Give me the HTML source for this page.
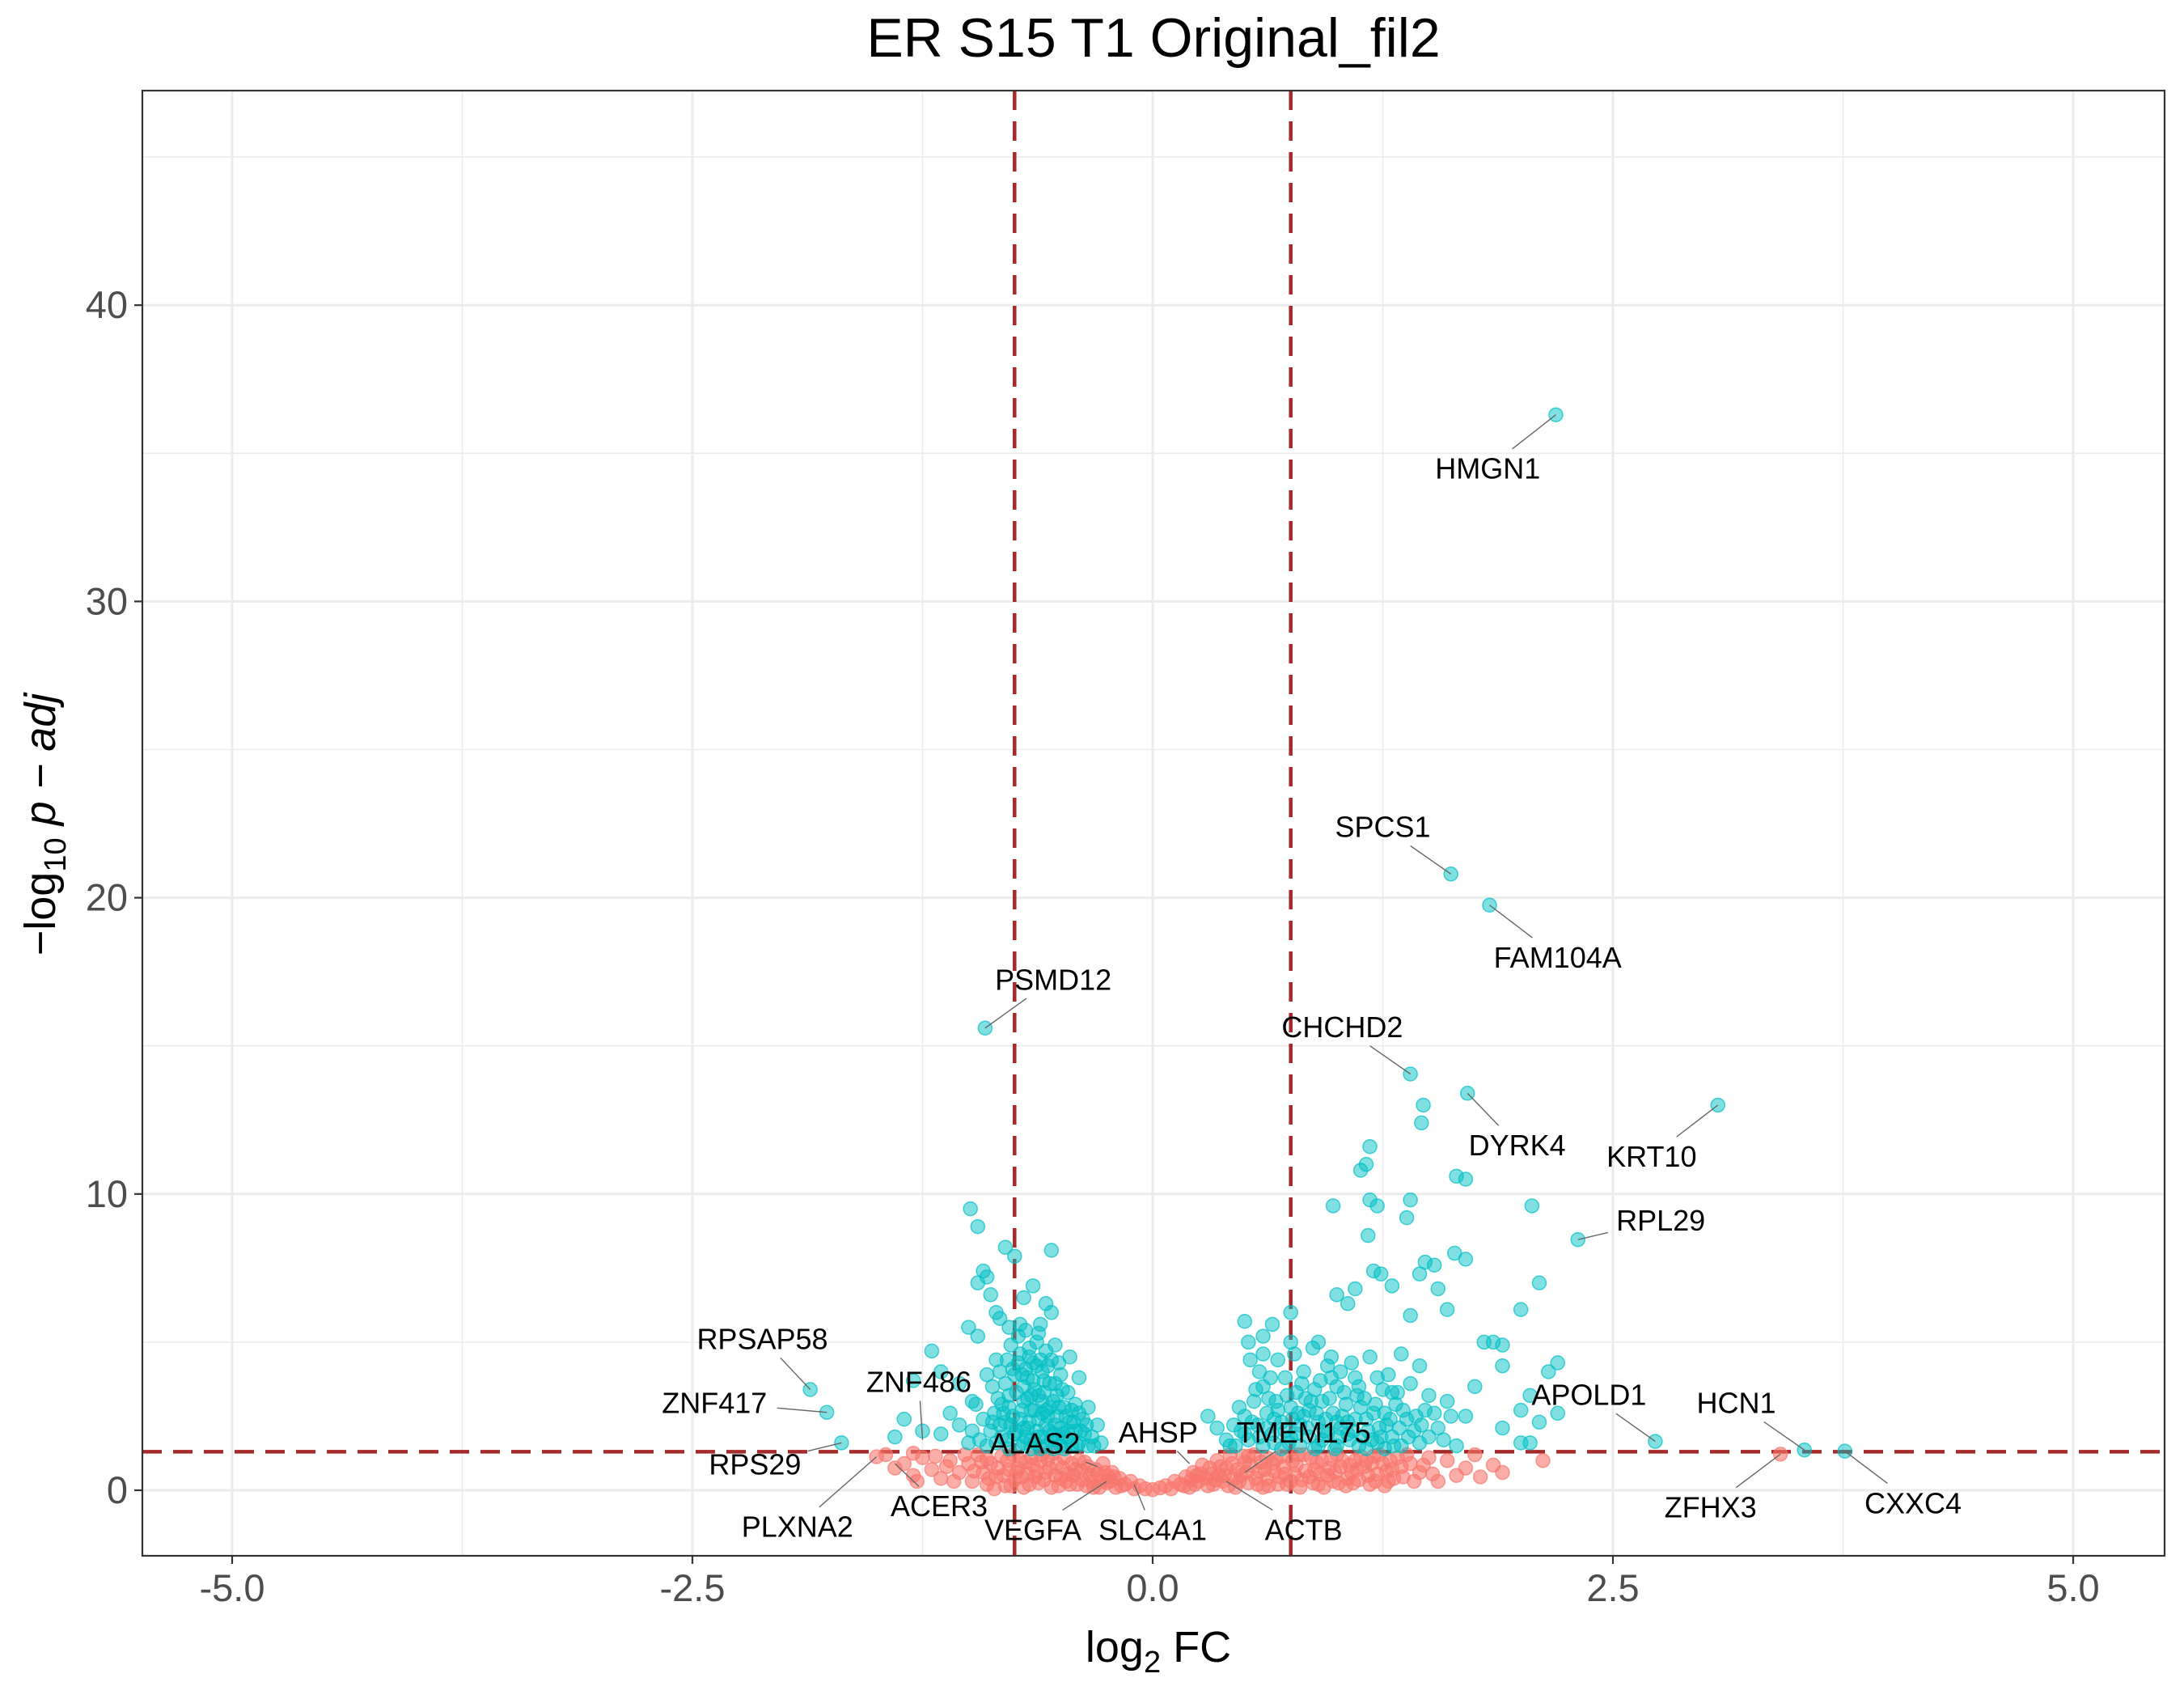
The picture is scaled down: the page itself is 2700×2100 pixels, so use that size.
<!DOCTYPE html>
<html><head><meta charset="utf-8"><style>
html,body{margin:0;padding:0;background:#fff;}
svg{display:block;font-family:"Liberation Sans",Arial,sans-serif;}
</style></head><body>
<svg id="chart" width="2700" height="2100" viewBox="0 0 2700 2100" xmlns="http://www.w3.org/2000/svg">
<rect x="0" y="0" width="2700" height="2100" fill="#fff"/>
<text x="1426" y="70" text-anchor="middle" font-size="68" fill="#000">ER S15 T1 Original_fil2</text>
<g id="grid"></g>
<g id="thresh"></g>
<g id="coral"></g>
<g id="teal"></g>
<g id="labels"></g>
<rect x="176" y="112" width="2500" height="1811" fill="none" stroke="#333" stroke-width="2.2"/>
<g id="axes"></g>
<text x="1432" y="2054" text-anchor="middle" font-size="54" fill="#000">log<tspan font-size="38" dy="13">2</tspan><tspan dy="-13"> FC</tspan></text>
<text transform="translate(68,1019) rotate(-90)" text-anchor="middle" font-size="54" fill="#000">−log<tspan font-size="38" dy="13">10</tspan><tspan dy="-13" font-style="italic"> p − adj</tspan></text>
</svg>
<script>
const xTicks = [-5, -2.5, 0, 2.5, 5];
const xTickLabels = ["-5.0", "-2.5", "0.0", "2.5", "5.0"];
const xMinor = [-3.75, -1.25, 1.25, 3.75];
const yTicks = [0, 10, 20, 30, 40];
const yMinor = [5, 15, 25, 35, 45];
const fcCut = [-0.75, 0.75];
const pCut = [1.3];
const tealPoints = [[2.19,36.3],[1.62,20.8],[1.83,19.75],[-0.91,15.6],[1.4,14.05],[1.71,13.4],[3.07,13.0],[2.31,8.46],[2.73,1.65],[3.54,1.36],[3.76,1.32],[-1.86,3.4],[-1.77,2.63],[-1.69,1.6],
[-0.99,9.5],[-0.95,8.9],[-0.8,8.2],[-0.75,7.9],[-0.55,8.1],[-0.92,7.4],[-0.9,7.2],[-0.95,7.0],[-0.88,6.6],[-0.65,6.9],[-0.7,6.5],[-0.58,6.3],[-0.55,6.0],[-0.85,6.0],[-0.83,5.8],[-0.78,5.5],[-0.72,5.6],[-1.0,5.5],[-0.95,5.2],[-0.62,5.3],[-1.2,4.7],[-1.15,4.0],[-1.05,3.6],[-1.3,3.7],[-1.35,2.4],[-1.25,2.0],[-1.4,1.8],[-1.15,1.9],[-1.1,2.6],[-1.05,2.2],[-0.98,3.0],[-0.45,4.5],[-0.4,3.8],[-0.35,2.8],[-0.3,2.2],[-0.28,1.6],
[-0.9,1.5],[-0.88,2.0],[-0.86,2.6],[-0.84,3.1],[-0.82,1.8],[-0.8,2.3],[-0.8,3.6],[-0.78,1.4],[-0.78,2.8],[-0.76,4.1],[-0.75,1.9],[-0.74,3.3],[-0.72,2.4],[-0.72,4.6],[-0.7,1.6],[-0.7,3.0],[-0.68,2.1],[-0.68,3.8],[-0.66,1.4],[-0.66,2.7],[-0.65,4.3],[-0.64,3.4],[-0.62,1.8],[-0.62,2.4],[-0.6,3.0],[-0.6,4.0],[-0.58,1.5],[-0.58,2.2],[-0.56,2.8],[-0.56,3.6],[-0.55,4.4],[-0.54,1.9],[-0.52,2.5],[-0.52,3.2],[-0.5,1.5],[-0.5,2.1],[-0.5,3.9],[-0.48,2.8],[-0.47,1.8],[-0.46,3.3],[-0.45,2.3],[-0.44,1.5],[-0.42,2.0],[-0.42,2.9],[-0.4,1.6],[-0.38,2.4],[-0.37,1.9],[-0.35,1.5],[-0.92,2.4],[-0.94,1.7],[-0.96,2.9],[-0.87,3.5],[-0.83,4.0],[-0.77,4.9],[-0.73,5.2],[-0.67,4.8],[-0.63,5.0],[-0.58,4.7],[-0.53,4.9],[-0.61,5.6],[-0.69,5.4],[-0.85,4.4],[-0.9,3.9],[-0.98,2.0],[-1.0,1.6],[-0.74,2.0],[-0.66,3.2],[-0.6,2.6],[-0.7,3.5],[-0.64,1.6],[-0.54,1.4],[-0.48,1.4],[-0.78,3.2],[-0.56,2.0],[-0.52,1.7],[-0.71,2.7],[-0.75,3.9],[-0.82,2.9],[-0.63,4.2],[-0.69,4.1],
[-0.73,1.5],[-0.69,1.8],[-0.67,2.3],[-0.63,2.0],[-0.61,1.4],[-0.59,3.3],[-0.57,2.5],[-0.55,1.7],[-0.53,2.2],[-0.51,2.8],[-0.49,1.9],[-0.47,2.5],[-0.45,1.7],[-0.43,2.3],[-0.41,1.5],[-0.39,2.0],[-0.77,2.2],[-0.79,1.7],[-0.81,2.6],[-0.83,2.2],[-0.85,1.6],[-0.87,2.3],[-0.71,3.9],[-0.65,3.7],[-0.59,3.7],[-0.53,3.6],[-0.49,3.4],[-0.61,4.4],[-0.67,4.5],[-0.73,4.3],[-0.79,4.4],[-0.57,4.2],[-0.51,4.3],[-0.76,2.5],[-0.64,2.7],[-0.68,3.1],[-0.62,3.2],[-0.54,3.0],[-0.58,2.7],[-0.7,2.1],[-0.66,1.7],[-0.6,1.8],[-0.46,2.0],[-0.44,2.7],[-0.4,2.6],[-0.36,2.2],[-0.33,1.8],[-0.32,1.5],
[1.47,13.0],[1.46,12.4],[1.18,11.6],[1.16,11.0],[1.13,10.8],[1.65,10.6],[1.7,10.5],[0.98,9.6],[1.18,9.8],[1.22,9.6],[1.4,9.8],[2.06,9.6],[1.38,9.2],[1.17,8.6],[1.64,8.0],[1.53,7.6],[1.48,7.7],[1.45,7.3],[1.7,7.8],[1.2,7.4],[1.24,7.3],[2.1,7.0],[1.1,6.8],[1.3,6.9],[1.55,6.8],[1.0,6.6],[1.06,6.3],[0.75,6.0],[0.65,5.6],[0.6,5.2],[0.5,5.7],[1.4,5.9],[1.6,6.1],[2.0,6.1],[0.52,5.0],[0.9,5.0],[1.8,5.0],[1.85,5.0],[1.9,4.9],[2.2,4.3],[2.15,4.0],[1.9,4.2],[1.75,3.5],[2.05,3.2],[2.0,2.7],[2.2,2.6],[2.1,2.3],[2.05,1.6],[1.9,2.1],[1.6,3.0],[1.7,2.5],[0.75,5.0],[0.6,4.6],[0.3,2.5],[0.35,2.1],[0.4,1.7],[2.0,1.6],
[0.45,1.5],[0.48,2.0],[0.5,2.5],[0.52,1.7],[0.55,3.0],[0.57,2.2],[0.6,1.5],[0.6,3.5],[0.62,2.6],[0.65,1.9],[0.67,3.0],[0.7,1.4],[0.7,2.3],[0.72,3.8],[0.75,1.8],[0.75,2.8],[0.78,3.3],[0.8,1.5],[0.8,2.2],[0.82,4.0],[0.85,2.7],[0.85,1.8],[0.88,3.4],[0.9,1.5],[0.9,2.3],[0.92,3.0],[0.95,1.9],[0.95,4.2],[0.98,2.6],[1.0,1.5],[1.0,3.5],[1.02,2.1],[1.05,2.9],[1.07,1.7],[1.1,2.4],[1.1,3.8],[1.12,1.5],[1.15,3.1],[1.17,2.0],[1.2,2.6],[1.22,1.6],[1.25,3.4],[1.27,2.2],[1.3,1.8],[1.32,2.9],[1.35,1.5],[1.38,2.4],[1.4,3.6],[1.42,2.0],[1.45,1.6],[1.48,2.7],[1.5,3.2],[1.55,2.1],[1.58,1.7],[1.62,2.5],[1.65,1.5],[0.58,4.0],[0.68,4.4],[0.77,4.6],[0.87,4.8],[0.97,4.5],[1.08,4.3],[1.18,4.5],[1.28,3.9],[1.35,4.6],[1.45,4.2],[0.53,4.4],[0.66,2.4],[0.74,1.6],[0.83,3.1],[0.93,2.0],[1.03,2.5],[1.13,2.8],[1.23,2.1],[1.33,3.3],[0.88,1.4],[0.99,1.4],[1.16,1.4],[1.26,1.4],[0.79,2.6],[0.97,3.8],[1.06,1.9],[0.63,3.1],
[0.5,1.9],[0.54,2.3],[0.58,1.8],[0.62,2.1],[0.66,1.6],[0.68,2.7],[0.72,2.0],[0.76,2.4],[0.78,1.9],[0.82,2.5],[0.84,2.1],[0.86,3.0],[0.89,2.6],[0.92,1.7],[0.94,2.4],[0.96,3.1],[1.0,2.3],[1.01,1.8],[1.04,3.3],[1.06,2.3],[1.09,2.0],[1.11,3.2],[1.14,1.8],[1.16,2.4],[1.19,1.7],[1.21,2.9],[1.24,1.8],[1.26,2.6],[1.29,2.4],[1.31,1.5],[1.34,2.1],[1.36,2.7],[1.39,1.8],[1.43,2.5],[1.46,2.2],[1.5,1.8],[1.53,2.6],[0.73,3.2],[0.81,3.6],[0.91,3.7],[1.02,4.0],[1.12,3.5],[1.22,3.8],[1.3,3.3],[0.64,3.8],[0.56,3.4],[0.47,2.8],[0.44,2.2],[0.42,1.5]];
const coralPoints = [[-1.35,0.9],[-1.3,0.5],[-1.25,1.1],[-1.2,0.7],[-1.15,0.4],[-1.1,1.0],[-1.05,0.6],[-1.0,0.9],[-0.98,0.3],[-0.95,1.2],[-0.92,0.6],[-0.9,0.2],[-0.88,0.9],[-0.85,0.45],[-0.82,1.15],[-0.8,0.15],[-0.78,0.7],[-0.75,0.35],[-0.72,1.0],[-0.7,0.1],[-0.68,0.55],[-0.65,0.85],[-0.62,0.25],[-0.6,1.2],[-0.58,0.6],[-0.55,0.1],[-0.52,0.9],[-0.5,0.4],[-0.48,1.1],[-0.45,0.2],[-0.42,0.7],[-0.4,1.0],[-0.38,0.35],[-0.35,0.8],[-0.32,0.1],[-0.3,0.55],[-0.27,0.9],[-0.25,0.25],[-0.22,0.6],[-0.2,0.1],[-0.18,0.4],[-0.15,0.2],[-0.12,0.3],[-0.1,0.05],[-0.07,0.15],[-0.04,0.05],[0,0.02],[0.04,0.08],[0.07,0.15],[0.1,0.05],[0.12,0.3],[0.15,0.2],[0.18,0.45],[0.2,0.1],[0.22,0.6],[0.25,0.3],[0.27,0.85],[0.3,0.15],[0.32,0.55],[0.35,1.0],[0.38,0.3],[0.4,0.75],[0.42,1.2],[0.45,0.1],[0.48,0.5],[0.5,0.95],[0.52,0.25],[0.55,1.2],[0.58,0.65],[0.6,0.1],[0.62,0.4],[0.65,0.9],[0.68,0.2],[0.7,1.15],[0.72,0.55],[0.75,0.3],[0.78,0.85],[0.8,0.1],[0.82,1.2],[0.85,0.45],[0.88,0.7],[0.9,0.2],[0.92,1.0],[0.95,0.5],[0.98,0.3],[1.0,1.2],[1.02,0.8],[1.05,0.15],[1.08,0.6],[1.1,1.0],[1.12,0.35],[1.15,0.8],[1.18,0.2],[1.2,1.15],[1.22,0.55],[1.25,0.9],[1.28,0.3],[1.3,0.7],[1.33,1.1],[1.36,0.45],[1.4,0.9],[1.45,0.6],[1.5,1.1],[1.55,0.3],[-0.86,0.05],[-0.74,0.6],[-0.64,0.45],[-0.56,0.75],[-0.46,0.55],[-0.36,0.15],[-0.28,0.3],[-0.66,1.1],[-0.76,1.2],[-0.9,1.05],[-1.02,1.2],[0.36,0.5],[0.46,0.7],[0.56,0.4],[0.66,0.65],[0.76,1.0],[0.86,1.1],[0.96,0.75],[1.06,0.4],[1.16,1.0],[1.26,0.15],[0.62,1.1],[0.52,1.15],[-0.54,1.25],[-0.44,0.9],[-0.34,0.5],[-0.24,0.45],[0.24,0.5],[0.34,0.35],[0.44,0.4],
[-1.5,1.13],[-1.45,1.2],[-1.4,0.75],[-1.3,1.25],[-1.28,0.3],[1.6,1.0],[1.65,0.5],[1.7,0.75],[1.78,0.45],[1.85,0.85],[1.9,0.6],[1.75,1.2],[2.12,1.0],[3.41,1.22],
[-1.08,0.3],[-1.12,0.8],[-1.18,1.15],[-0.97,0.65],[-0.93,0.95],[-0.89,0.4],[-0.84,0.75],[-0.81,0.5],[-0.79,1.0],[-0.77,0.15],[-0.73,0.75],[-0.71,0.45],[-0.69,0.95],[-0.67,0.2],[-0.63,0.65],[-0.61,1.0],[-0.59,0.35],[-0.57,1.05],[-0.53,0.5],[-0.51,0.15],[-0.49,0.75],[-0.47,0.3],[-0.43,0.5],[-0.41,0.2],[-0.39,0.65],[-0.37,0.95],[-0.33,0.3],[-0.31,0.7],[-0.29,0.1],[-0.26,0.6],[-0.23,0.3],[-0.21,0.45],[-0.17,0.15],[0.17,0.15],[0.21,0.35],[0.23,0.2],[0.26,0.55],[0.29,0.4],[0.31,0.75],[0.33,0.2],[0.37,0.8],[0.39,0.5],[0.41,0.15],[0.43,0.9],[0.47,0.3],[0.49,1.15],[0.51,0.6],[0.53,0.85],[0.57,0.2],[0.59,0.95],[0.61,0.7],[0.63,0.15],[0.67,1.05],[0.69,0.45],[0.71,0.8],[0.73,0.2],[0.77,0.55],[0.79,1.2],[0.81,0.35],[0.83,0.65],[0.87,0.25],[0.89,0.95],[0.91,0.55],[0.93,0.1],[0.97,1.05],[0.99,0.6],[1.01,0.25],[1.03,1.0],[1.07,0.85],[1.09,0.25],[1.11,0.7],[1.13,1.15],[1.17,0.5],[1.19,0.9],[1.21,0.3],[1.23,1.2],[1.27,0.65],[1.29,1.0],[1.31,0.4],[1.35,0.8],[1.38,1.2],[1.42,0.3],[1.47,0.85],[1.52,0.55]];
const geneNames = ["HMGN1","SPCS1","FAM104A","PSMD12","CHCHD2","DYRK4","KRT10","RPL29","APOLD1","HCN1","CXXC4","ZFHX3","RPSAP58","ZNF417","RPS29","PLXNA2","ZNF486","ACER3","ALAS2","VEGFA","SLC4A1","AHSP","TMEM175","ACTB"];
const genePoints = [[2.19,36.3],[1.62,20.8],[1.83,19.75],[-0.91,15.6],[1.4,14.05],[1.71,13.4],[3.07,13.0],[2.31,8.46],[2.73,1.65],[3.54,1.36],[3.76,1.32],[3.41,1.22],[-1.86,3.4],[-1.77,2.63],[-1.69,1.6],[-1.5,1.13],[-1.25,1.7],[-1.4,0.9],[-0.3,0.8],[-0.25,0.3],[-0.1,0.2],[0.2,0.9],[0.5,0.6],[0.4,0.3]];
const geneLabelPos = [[1.82,34.5],[1.25,22.4],[2.2,18.0],[-0.54,17.25],[1.03,15.65],[1.98,11.66],[2.71,11.28],[2.76,9.12],[2.37,3.24],[3.17,2.96],[4.13,-0.42],[3.03,-0.56],[-2.12,5.12],[-2.38,2.96],[-2.16,0.89],[-1.93,-1.22],[-1.27,3.67],[-1.16,-0.52],[-0.64,1.6],[-0.65,-1.32],[0.0,-1.32],[0.03,1.97],[0.82,1.97],[0.82,-1.32]];

const NS = "http://www.w3.org/2000/svg";
const L = 176, R = 2676, T = 112, B = 1923;
const sx = v => 1425 + v * 227.6;
const sy = v => 1842 - v * 36.62;
function mk(tag, attrs, parent) {
  const e = document.createElementNS(NS, tag);
  for (const k in attrs) e.setAttribute(k, attrs[k]);
  parent.appendChild(e);
  return e;
}
const grid = document.getElementById('grid');
xMinor.forEach(v => { const l = mk('line', {x1: sx(v), x2: sx(v), y1: T, y2: B, stroke: '#ebebeb', 'stroke-width': 1.6}, grid);
  
   });
yMinor.forEach(v => { const l = mk('line', {x1: L, x2: R, y1: sy(v), y2: sy(v), stroke: '#ebebeb', 'stroke-width': 1.6}, grid);
  
   });
xTicks.forEach(v => { const l = mk('line', {x1: sx(v), x2: sx(v), y1: T, y2: B, stroke: '#ebebeb', 'stroke-width': 3}, grid);
  
   });
yTicks.forEach(v => { const l = mk('line', {x1: L, x2: R, y1: sy(v), y2: sy(v), stroke: '#ebebeb', 'stroke-width': 3}, grid);
  
   });

const th = document.getElementById('thresh');
fcCut.forEach(v => { const l = mk('line', {x1: sx(v), x2: sx(v), y1: T, y2: B, stroke: '#a52a2a', 'stroke-width': 4.5, 'stroke-dasharray': '24,14'}, th);
  
   });
pCut.forEach(v => { const l = mk('line', {x1: L, x2: R, y1: sy(v), y2: sy(v), stroke: '#a52a2a', 'stroke-width': 4.5, 'stroke-dasharray': '24,14'}, th);
  
   });

const cg = document.getElementById('coral');
coralPoints.forEach(p => { const c = mk('circle', {cx: sx(p[0]), cy: sy(p[1]), r: 8.5, fill: '#F8766D', 'fill-opacity': 0.6, stroke: '#F8766D', 'stroke-opacity': 0.7, 'stroke-width': 1.5}, cg);
  
   });
const tg = document.getElementById('teal');
tealPoints.forEach(p => { const c = mk('circle', {cx: sx(p[0]), cy: sy(p[1]), r: 8.5, fill: '#00BFC4', 'fill-opacity': 0.5, stroke: '#00BFC4', 'stroke-opacity': 0.7, 'stroke-width': 1.5}, tg);
  
   });

const lg = document.getElementById('labels');
const FS = 36;
geneNames.forEach((name, i) => {
  const px = sx(genePoints[i][0]), py = sy(genePoints[i][1]);
  const lx = sx(geneLabelPos[i][0]), ly = sy(geneLabelPos[i][1]);
  const hw = name.length * FS * 0.33 + 6, hh = FS * 0.55 + 4;
  const dx = px - lx, dy = py - ly;
  let t = 1;
  if (dx !== 0) t = Math.min(t, hw / Math.abs(dx));
  if (dy !== 0) t = Math.min(t, hh / Math.abs(dy));
  if (t < 1) {
    const sl = mk('line', {x1: lx + dx * t, y1: ly + dy * t, x2: px, y2: py, stroke: '#666', 'stroke-width': 1.4}, lg);
    
    
  }
  const tx = mk('text', {x: lx, y: ly + FS * 0.36, 'text-anchor': 'middle', 'font-size': FS, fill: '#000'}, lg);
  tx.textContent = name;
  
  
});

const ax = document.getElementById('axes');
xTicks.forEach((v, i) => {
  const tk = mk('line', {x1: sx(v), x2: sx(v), y1: B, y2: B + 10, stroke: '#333', 'stroke-width': 2.2}, ax);
  
  
  const tl = mk('text', {x: sx(v), y: B + 56, 'text-anchor': 'middle', 'font-size': 47, fill: '#4d4d4d'}, ax);
  tl.textContent = xTickLabels[i];
  
  
});
yTicks.forEach(v => {
  const tk = mk('line', {x1: L - 10, x2: L, y1: sy(v), y2: sy(v), stroke: '#333', 'stroke-width': 2.2}, ax);
  
  
  const tl = mk('text', {x: L - 18, y: sy(v) + 16, 'text-anchor': 'end', 'font-size': 47, fill: '#4d4d4d'}, ax);
  tl.textContent = String(v);
  
  
});
</script>
</body></html>
